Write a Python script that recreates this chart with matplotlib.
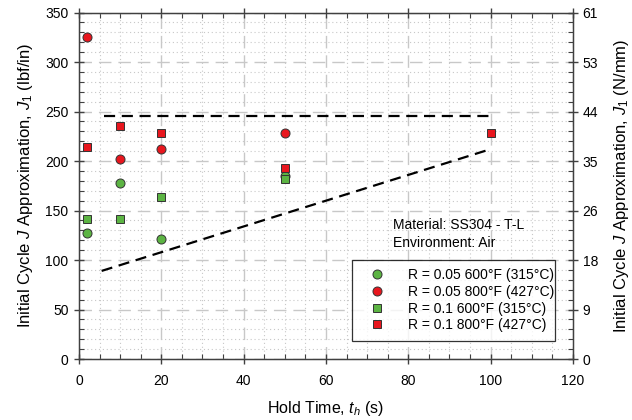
import matplotlib
matplotlib.use('Agg')
import matplotlib.pyplot as plt
from matplotlib.ticker import MultipleLocator, FixedLocator, FixedFormatter

plt.rcParams.update({
    'font.family': 'Liberation Sans',
    'font.size': 10,
    'mathtext.fontset': 'custom',
    'mathtext.rm': 'Liberation Sans',
    'mathtext.it': 'Liberation Sans:italic',
})

# data (hold time in s, J1 in lbf/in)
hold_time = [2, 10, 20, 50]
j_r005_600 = [127, 178, 121, 185]
j_r005_800 = [325, 202, 212, 228]
j_r01_600 = [141, 141, 164, 182]
hold_time_r01_800 = [2, 10, 20, 50, 100]
j_r01_800 = [214, 235, 228, 193, 228]

# bounding lines
upper_x = [6, 100]
upper_y = [245, 245]
lower_x = [5.5, 100]
lower_y = [89, 212]

right_ticks = [0, 50, 100, 150, 200, 250, 300, 350]
right_labels = ['0', '9', '18', '26', '35', '44', '53', '61']

C_GREEN = '#5CB443'
C_RED = '#E8161E'
C_SPINE = '#404040'

fig = plt.figure(figsize=(6.32, 4.2), dpi=100)
ax = fig.add_axes([0.125, 0.1452, 0.7816, 0.8250])

ax.set_xlim(0, 120)
ax.set_ylim(0, 350)
ax.xaxis.set_major_locator(MultipleLocator(20))
ax.xaxis.set_minor_locator(MultipleLocator(5))
ax.yaxis.set_major_locator(MultipleLocator(50))
ax.yaxis.set_minor_locator(MultipleLocator(10))

ax.grid(which='major', color='#C8C8C8', linestyle=(0, (9, 5)), linewidth=1.0)
ax.grid(which='minor', color='#C8C8C8', linestyle=(0, (1, 2.5)), linewidth=0.8)
ax.set_axisbelow(True)

ax.plot(upper_x, upper_y, color='black', linestyle=(0, (5, 3)), linewidth=1.6, zorder=2)
ax.plot(lower_x, lower_y, color='black', linestyle=(0, (5, 3)), linewidth=1.6, zorder=2)

mk = dict(linestyle='none', markeredgecolor='#333333',
          markeredgewidth=0.7, zorder=3)
ax.plot(hold_time, j_r005_600, marker='o', color=C_GREEN, markersize=6.5,
        label='R = 0.05 600°F (315°C)', **mk)
ax.plot(hold_time, j_r005_800, marker='o', color=C_RED, markersize=6.5,
        label='R = 0.05 800°F (427°C)', **mk)
ax.plot(hold_time, j_r01_600, marker='s', color=C_GREEN, markersize=5.6,
        label='R = 0.1 600°F (315°C)', **mk)
ax.plot(hold_time_r01_800, j_r01_800, marker='s', color=C_RED, markersize=5.6,
        label='R = 0.1 800°F (427°C)', **mk)

for sp in ax.spines.values():
    sp.set_color(C_SPINE)
    sp.set_linewidth(1.0)

ax.tick_params(which='major', direction='inout', length=7, width=1.0,
               color=C_SPINE, labelsize=10, top=True, pad=4)
ax.tick_params(which='minor', direction='in', length=3.5, width=0.8,
               color=C_SPINE, top=True)
ax.tick_params(axis='x', which='major', pad=7)

ax.set_xlabel('Hold Time, $t_h$ (s)', fontsize=11.5, labelpad=8)
ax.set_ylabel(r'Initial Cycle $J$ Approximation, $J_{\mathit{1}}$ (lbf/in)',
              fontsize=12, labelpad=7)

ax2 = ax.twinx()
ax2.set_ylim(0, 350)
ax2.yaxis.set_major_locator(FixedLocator(right_ticks))
ax2.yaxis.set_major_formatter(FixedFormatter(right_labels))
ax2.yaxis.set_minor_locator(MultipleLocator(10))
ax2.tick_params(which='major', direction='inout', length=7, width=1.0,
                color=C_SPINE, labelsize=10)
ax2.tick_params(which='minor', direction='in', length=3.5, width=0.8, color=C_SPINE)
for sp in ax2.spines.values():
    sp.set_color(C_SPINE)
ax2.set_ylabel(r'Initial Cycle $J$ Approximation, $J_{\mathit{1}}$ (N/mm)',
               fontsize=12, labelpad=10)

ax.text(0.636, 0.361, 'Material: SS304 - T-L\nEnvironment: Air', transform=ax.transAxes,
        ha='left', va='center', fontsize=10, linespacing=1.3)

leg = ax.legend(loc='lower left', bbox_to_anchor=(0.553, 0.053, 0.41, 0.25),
                mode='expand', fontsize=10, frameon=True, fancybox=False,
                edgecolor='black', borderpad=0.6, handletextpad=1.0,
                labelspacing=0.2, handlelength=2.4, borderaxespad=0)
leg.get_frame().set_linewidth(0.9)
leg.set_zorder(5)

fig.savefig('out.png', dpi=100)
